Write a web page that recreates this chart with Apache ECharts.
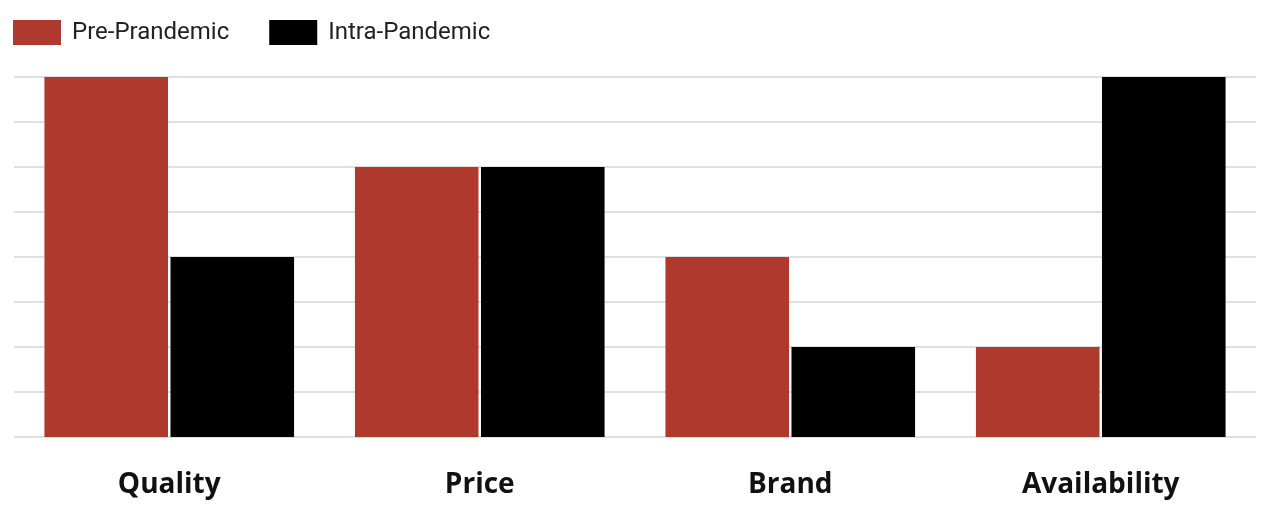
<!DOCTYPE html>
<html>
<head>
<meta charset="utf-8">
<script src="https://cdn.jsdelivr.net/npm/echarts@6/dist/echarts.min.js"></script>
<style>html,body{margin:0;padding:0;background:#fff}#c{width:1276px;height:522px}</style>
</head>
<body>
<div id="c"></div>
<script>
const categories = ['Quality', 'Price', 'Brand', 'Availability'];
const prePandemic = [8, 6, 4, 2];
const intraPandemic = [4, 6, 2, 8];
const seriesNames = ['Pre-Prandemic', 'Intra-Pandemic'];

const chart = echarts.init(document.getElementById('c'));
chart.setOption({
  animation: false,
  color: ['#b0392e', '#000000'],
  legend: {
    left: 8, top: 15,
    itemWidth: 48, itemHeight: 25, itemGap: 40,
    icon: 'rect',
    textStyle: { fontFamily: 'Roboto', fontSize: 24, color: '#222', padding: [0, 0, 0, 6] }
  },
  grid: { left: 14, right: 20, top: 77, bottom: 85 },
  xAxis: {
    type: 'category', data: categories,
    axisLine: { show: false }, axisTick: { show: false },
    axisLabel: { margin: 34, fontFamily: 'Open Sans', fontWeight: 'bold', fontSize: 28, color: '#111' }
  },
  yAxis: {
    type: 'value', min: 0, max: 8, interval: 1,
    axisLabel: { show: false }, axisLine: { show: false }, axisTick: { show: false },
    splitLine: { lineStyle: { color: '#d6d6d6', width: 1.5 } }
  },
  series: [
    { name: seriesNames[0], type: 'bar', data: prePandemic, barWidth: '39.8%', barGap: '2%' },
    { name: seriesNames[1], type: 'bar', data: intraPandemic, barWidth: '39.8%', barGap: '2%' }
  ]
});
</script>
</body>
</html>
